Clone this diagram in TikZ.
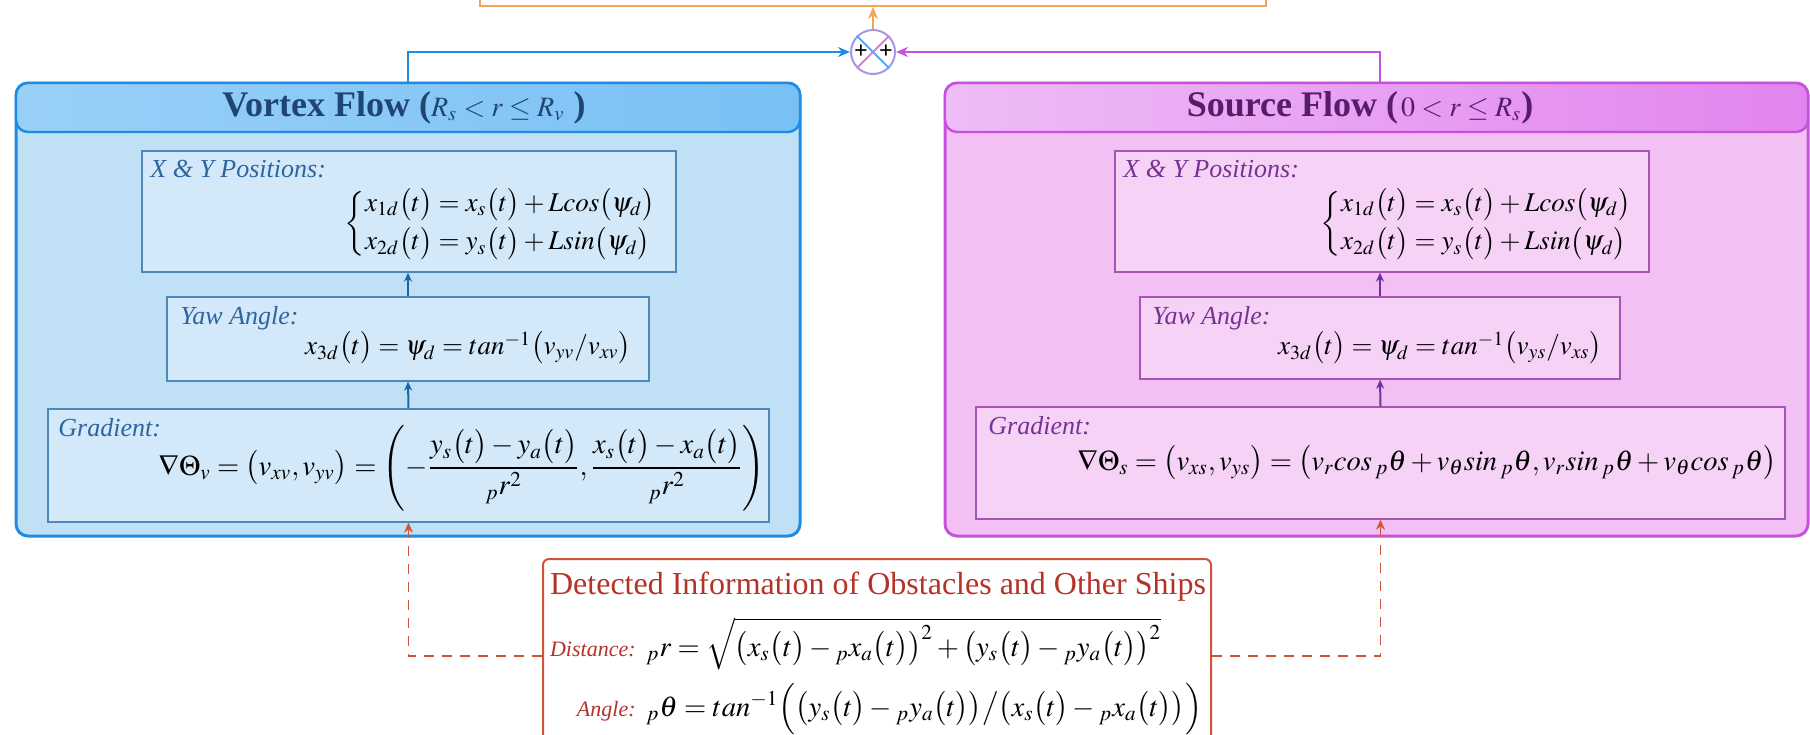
\documentclass[tikz,border=0pt]{standalone}
\usepackage{amsmath}
\usepackage{mathptmx}
\usepackage{fontspec}
\setmainfont{Liberation Serif}
\usetikzlibrary{arrows.meta, positioning, calc, fit}
\definecolor{vortexline}{RGB}{30,140,230}
\definecolor{vortexfill}{RGB}{192,224,246}
\definecolor{vortexbar}{RGB}{120,192,245}
\definecolor{vortexink}{RGB}{31,70,115}
\definecolor{vortexbox}{RGB}{80,135,185}
\definecolor{vortexarr}{RGB}{30,100,170}
\definecolor{vortexlab}{RGB}{46,100,160}
\definecolor{sourceline}{RGB}{200,80,225}
\definecolor{sourcefill}{RGB}{242,192,242}
\definecolor{sourcebar}{RGB}{226,132,238}
\definecolor{sourcebarl}{RGB}{238,188,246}
\definecolor{sourceink}{RGB}{88,28,108}
\definecolor{sourcebox}{RGB}{165,85,180}
\definecolor{sourcearr}{RGB}{112,48,160}
\definecolor{sourcelab}{RGB}{118,50,148}
\definecolor{sumline}{RGB}{240,165,90}
\definecolor{sumring}{RGB}{165,150,230}
\definecolor{detline}{RGB}{205,85,60}
\definecolor{detink}{RGB}{180,50,40}
\newcommand{\tpar}{\bigl(t\bigr)}
\tikzset{
  >={Stealth[length=6pt, width=5pt]},
  flowv/.style ={draw=vortexline, line width=1.5pt, rounded corners=6pt, fill=vortexfill, inner sep=0pt},
  barv/.style  ={draw=vortexline, line width=1.2pt, rounded corners=6pt,
                 left color=vortexbar!75!white, right color=vortexbar, inner sep=0pt},
  flows/.style ={draw=sourceline, line width=1.5pt, rounded corners=6pt, fill=sourcefill, inner sep=0pt},
  bars/.style  ={draw=sourceline, line width=1.2pt, rounded corners=6pt,
                 left color=sourcebarl, right color=sourcebar, inner sep=0pt},
  blockv/.style={draw=vortexbox, line width=0.7pt, fill=vortexfill!70!white, inner sep=0pt},
  blocks/.style={draw=sourcebox, line width=0.7pt, fill=sourcefill!70!white, inner sep=0pt},
  labv/.style  ={font=\fontsize{13}{15}\selectfont\itshape, text=vortexlab, anchor=north west, inner sep=0pt},
  labs/.style  ={labv, text=sourcelab},
  eq/.style    ={font=\fontsize{13.5}{16}\selectfont, inner sep=0pt},
  bigeq/.style ={font=\fontsize{14.3}{17}\selectfont, inner sep=0pt},
  ttl/.style   ={font=\fontsize{18}{21}\selectfont, inner sep=0pt},
  detlab/.style={font=\fontsize{11}{13}\selectfont\itshape, text=detink, anchor=base east, inner sep=0pt},
  vwire/.style ={draw=vortexline, line width=1pt},
  swire/.style ={draw=sourceline, line width=1pt},
  varrow/.style={draw=vortexarr, line width=1pt, >={Stealth[length=4.5pt, width=4pt]}},
  sarrow/.style={draw=sourcearr, line width=1pt, >={Stealth[length=4.5pt, width=4pt]}},
  dwire/.style ={draw=detline, line width=0.9pt, dashed, dash pattern=on 5pt off 4pt,
                 >={Stealth[length=5pt, width=4.5pt]}},
}

\begin{document}
\begin{tikzpicture}[x=0.5pt, y=-0.5pt]
  \useasboundingbox (0,0) rectangle (1810,734);

  % --- summing stage and its (cut-off) output block ---------------------------
  \node[draw=sumline, line width=1pt, fit={(480,-40) (1266,6)}, inner sep=0pt] (output) {};
  \node[circle, draw=sumring, line width=1pt, minimum size=22pt, inner sep=0pt] (sum) at (873,52) {};
  \draw[vortexline!75, line width=0.9pt] (sum.north west) -- (sum.south east);
  \draw[sourceline!75, line width=0.9pt] (sum.north east) -- (sum.south west);
  \node[font=\bfseries\fontsize{12}{12}\selectfont, inner sep=0pt] (plusl) at (861,52) {+};
  \node[font=\bfseries\fontsize{12}{12}\selectfont, inner sep=0pt] (plusr) at (886,52) {+};

  % --- vortex flow --------------------------------------------------------------
  \node[flowv, fit={(16,83) (800,536)}] (vortex) {};
  \node[barv, fit={(16,83) (800,132)}] (vbar) {};
  \node[ttl, text=vortexink] (vtitle) at (404,108)
    {\textbf{Vortex Flow (}{\fontsize{14}{16}\selectfont$R_s<r\le R_v$}\textbf{ )}};

  \node[blockv, fit={(142,151) (676,272)}] (vxy) {};
  \node[blockv, fit={(167,297) (649,381)}] (vyaw) {};
  \node[blockv, fit={(48,409) (769,522)}]  (vgrad) {};

  \node[labv] (vxylab)   at (150,160) {X \& Y Positions:};
  \node[eq]   (vxyeq)    at (501,224)
    {$\left\{\begin{array}{@{}l@{}}
       x_{1d}\tpar=x_s\tpar+Lcos\bigl(\psi_d\bigr)\\[3pt]
       x_{2d}\tpar=y_s\tpar+Lsin\bigl(\psi_d\bigr)
     \end{array}\right.$};
  \node[labv] (vyawlab)  at (180,306) {Yaw Angle:};
  \node[eq]   (vyaweq)   at (468,348)
    {$x_{3d}\tpar=\psi_d=tan^{-1}\bigl(v_{yv}/v_{xv}\bigr)$};
  \node[labv] (vgradlab) at (58,418)  {Gradient:};
  \node[bigeq] (vgradeq) at (462,468)
    {$\displaystyle\nabla\Theta_v=\bigl(v_{xv},v_{yv}\bigr)=
      \left(-\frac{y_s\tpar-y_a\tpar}{{}_pr^2},\frac{x_s\tpar-x_a\tpar}{{}_pr^2}\right)$};

  \draw[varrow,->] (vgrad.north) -- (vyaw.south);
  \draw[varrow,->] (vyaw.north) -- (vyaw.north |- vxy.south);

  % --- source flow --------------------------------------------------------------
  \node[flows, fit={(945,83) (1808,536)}] (source) {};
  \node[bars, fit={(945,83) (1808,132)}] (sbar) {};
  \node[ttl, text=sourceink] (stitle) at (1360,108)
    {\textbf{Source Flow (}{\fontsize{14}{16}\selectfont$\,0<r\le R_s$}\textbf{)}};

  \node[blocks, fit={(1115,151) (1649,272)}] (sxy) {};
  \node[blocks, fit={(1140,297) (1620,379)}] (syaw) {};
  \node[blocks, fit={(976,407) (1785,519)}]  (sgrad) {};

  \node[labs] (sxylab)   at (1123,160) {X \& Y Positions:};
  \node[eq]   (sxyeq)    at (1477,224)
    {$\left\{\begin{array}{@{}l@{}}
       x_{1d}\tpar=x_s\tpar+Lcos\bigl(\psi_d\bigr)\\[3pt]
       x_{2d}\tpar=y_s\tpar+Lsin\bigl(\psi_d\bigr)
     \end{array}\right.$};
  \node[labs] (syawlab)  at (1152,306) {Yaw Angle:};
  \node[eq]   (syaweq)   at (1440,348)
    {$x_{3d}\tpar=\psi_d=tan^{-1}\bigl(v_{ys}/v_{xs}\bigr)$};
  \node[labs] (sgradlab) at (988,416)  {Gradient:};
  \node[bigeq] (sgradeq) at (1427,463)
    {$\nabla\Theta_s=\bigl(v_{xs},v_{ys}\bigr)=\bigl(v_rcos\,{}_p\theta+v_\theta sin\,{}_p\theta,
      v_rsin\,{}_p\theta+v_\theta cos\,{}_p\theta\bigr)$};

  \draw[sarrow,->] (sgrad.north) -- (syaw.south);
  \draw[sarrow,->] (syaw.north) -- (syaw.north |- sxy.south);

  % --- detected information -----------------------------------------------------
  \node[draw=detline, line width=1pt, rounded corners=3pt, fill=white,
        fit={(543,559) (1211,745)}, inner sep=0pt] (det) {};
  \node[font=\fontsize{16}{19}\selectfont, text=detink, inner sep=0pt] (dettitle) at (878,587)
    {Detected Information of Obstacles and Other Ships};
  \node[detlab] (ldist) at (636,656) {Distance:};
  \node[bigeq, anchor=base west] (distEq) at (646,656)
    {${}_pr=\sqrt{\bigl(x_s\tpar-{}_px_a\tpar\bigr)^2+\bigl(y_s\tpar-{}_py_a\tpar\bigr)^2}$};
  \node[detlab] (langle) at (636,716) {Angle:};
  \node[bigeq, anchor=base west] (angleEq) at (646,716)
    {${}_p\theta=tan^{-1}\Bigl(\bigl(y_s\tpar-{}_py_a\tpar\bigr)\big/\bigl(x_s\tpar-{}_px_a\tpar\bigr)\Bigr)$};

  % --- connectors ---------------------------------------------------------------
  \draw[vwire,->] (vortex.north) |- (sum.west);
  \draw[swire,->] (syaw.north |- source.north) |- (sum.east);
  \draw[draw=sumline, line width=1pt, ->] (sum.north) -- (output.south);
  \draw[dwire,->] (det.west |- ldist.base) -| (vgrad.south);
  \draw[dwire,->] (det.east |- ldist.base) -| (sgrad.south);
\end{tikzpicture}
\end{document}
